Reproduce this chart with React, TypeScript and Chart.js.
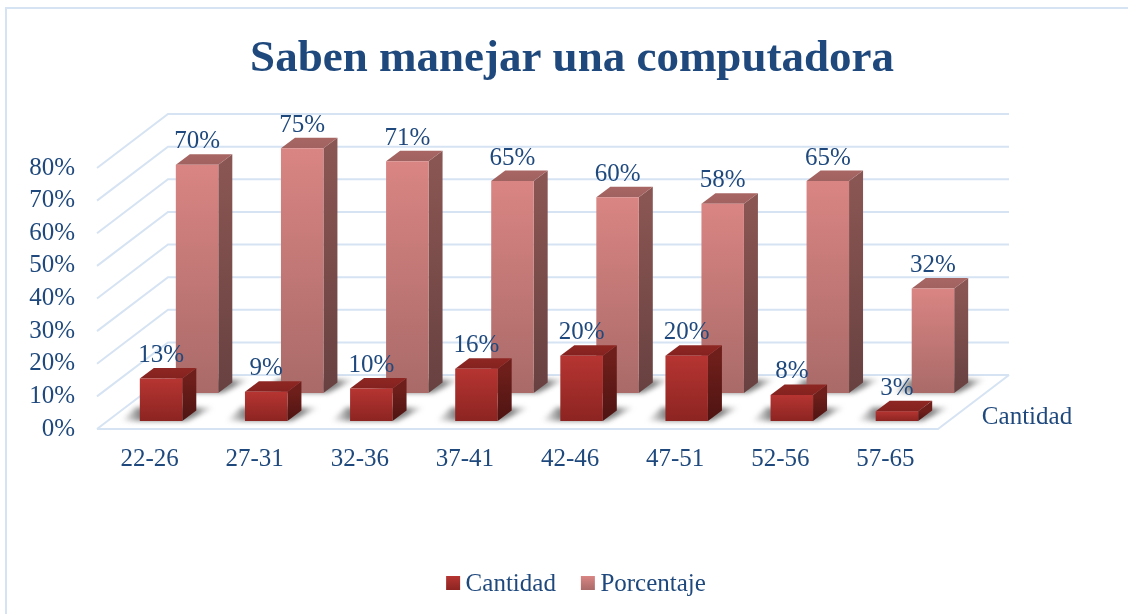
import React, { useEffect, useRef } from "react";
import { Chart, registerables } from "chart.js";

Chart.register(...registerables);

const titleText = "Saben manejar una computadora";
const categories = ["22-26", "27-31", "32-36", "37-41", "42-46", "47-51", "52-56", "57-65"];
const cantidad = [13, 9, 10, 16, 20, 20, 8, 3];
const porcentaje = [70, 75, 71, 65, 60, 58, 65, 32];
const depthLabel = "Cantidad";

const FONT = "'Liberation Serif', serif";
const TEXT = "#1f497d";
const GRID = "#d6e3f3";
const WALL = { dx: 71, dy: 54 };
const BAR_DEPTH = { dx: 14, dy: 10.5 };

const looks = [
  { shift: { dx: 11.5, dy: 8 }, front: ["#b63532", "#8c2421"], top: ["#8e2723", "#84221f"], side: ["#6f1f1b", "#4e1412"] },
  { shift: { dx: 47.5, dy: 36 }, front: ["#d98583", "#a96a68"], top: ["#a86663", "#a06260"], side: ["#8a5653", "#674140"] },
];

function vgrad(ctx: CanvasRenderingContext2D, y0: number, y1: number, c: string[]) {
  const g = ctx.createLinearGradient(0, y0, 0, y1);
  g.addColorStop(0, c[0]);
  g.addColorStop(1, c[1]);
  return g;
}

function poly(ctx: CanvasRenderingContext2D, pts: number[][], fill: any) {
  ctx.beginPath();
  pts.forEach((p, i) => (i ? ctx.lineTo(p[0], p[1]) : ctx.moveTo(p[0], p[1])));
  ctx.closePath();
  ctx.fillStyle = fill;
  ctx.fill();
}

const scene3d = {
  id: "scene3d",
  afterLayout(chart: any) {
    chart.legend.left += 4;
    chart.legend.right += 4;
  },
  beforeDraw(chart: any) {
    const { ctx, width, height } = chart;
    ctx.save();
    ctx.strokeStyle = GRID;
    ctx.lineWidth = 2;
    ctx.beginPath();
    ctx.moveTo(6, height);
    ctx.lineTo(6, 8);
    ctx.lineTo(width, 8);
    ctx.stroke();
    ctx.restore();
  },
  beforeDatasetsDraw(chart: any) {
    const { ctx, scales, chartArea } = chart;
    const { left, right } = chartArea;
    ctx.save();
    ctx.strokeStyle = GRID;
    ctx.lineWidth = 2;
    scales.y.ticks.forEach((t: any) => {
      const y = scales.y.getPixelForValue(t.value);
      ctx.beginPath();
      ctx.moveTo(left, y);
      ctx.lineTo(left + WALL.dx, y - WALL.dy);
      ctx.lineTo(right + WALL.dx, y - WALL.dy);
      ctx.stroke();
    });
    const y0 = scales.y.getPixelForValue(0);
    ctx.beginPath();
    ctx.moveTo(left, y0);
    ctx.lineTo(right, y0);
    ctx.lineTo(right + WALL.dx, y0 - WALL.dy);
    ctx.stroke();
    ctx.restore();

    // floor shadows, behind all the bars
    [1, 0].forEach((di) => {
      const look = looks[di];
      chart.getDatasetMeta(di).data.forEach((el: any) => {
        const w = el.width;
        const x0 = el.x - w / 2 + look.shift.dx;
        const b = el.base - look.shift.dy;
        const xa = x0 - 19;
        const xb = x0 + w + BAR_DEPTH.dx + 18;
        const g = ctx.createLinearGradient(xa, 0, xb, 0);
        g.addColorStop(0, "rgba(110,110,110,0)");
        g.addColorStop(19 / (xb - xa), "rgba(80,80,80,0.7)");
        g.addColorStop((19 + w + BAR_DEPTH.dx) / (xb - xa), "rgba(80,80,80,0.7)");
        g.addColorStop(1, "rgba(110,110,110,0)");
        ctx.save();
        ctx.filter = "blur(2.5px)";
        poly(ctx, [[xa, b], [x0 + w + 4, b], [xb, b - 13.5], [x0 - 4, b - 13.5]], g);
        ctx.restore();
      });
    });
  },
  beforeDatasetDraw(chart: any, args: any) {
    const { ctx } = chart;
    const look = looks[args.index];
    chart.getDatasetMeta(args.index).data.forEach((el: any) => {
      const w = el.width;
      const x0 = el.x - w / 2 + look.shift.dx;
      const x1 = x0 + w;
      const top = el.y - look.shift.dy;
      const bot = el.base - look.shift.dy;
      const { dx, dy } = BAR_DEPTH;
      poly(ctx, [[x1, top], [x1 + dx, top - dy], [x1 + dx, bot - dy], [x1, bot]], vgrad(ctx, top, bot, look.side));
      poly(ctx, [[x0, top], [x0 + dx, top - dy], [x1 + dx, top - dy], [x1, top]], vgrad(ctx, top - dy, top, look.top));
      poly(ctx, [[x0, top], [x1, top], [x1, bot], [x0, bot]], vgrad(ctx, top, bot, look.front));
    });
    return false;
  },
  afterDatasetsDraw(chart: any) {
    const { ctx, scales, chartArea } = chart;
    ctx.save();
    ctx.fillStyle = TEXT;
    ctx.font = `25px ${FONT}`;
    ctx.textAlign = "center";
    ctx.textBaseline = "middle";
    [1, 0].forEach((di) => {
      const look = looks[di];
      const values = chart.data.datasets[di].data;
      chart.getDatasetMeta(di).data.forEach((el: any, i: number) => {
        ctx.fillText(`${values[i]}%`, el.x + look.shift.dx, el.y - look.shift.dy - 23);
      });
    });
    ctx.fillText(depthLabel, chartArea.right + 89, scales.y.getPixelForValue(0) - 12);
    ctx.restore();
  },
  afterDraw(chart: any) {
    // legend swatches: the built-in key leaves too wide a gap before its text
    const { ctx, legend } = chart;
    legend.adjustHitBoxes();
    ctx.save();
    legend.legendHitBoxes.forEach((hit: any, i: number) => {
      ctx.fillStyle = vgrad(ctx, 576, 590, looks[i].front);
      ctx.fillRect(hit.left, 576, 14, 14);
    });
    ctx.restore();
  },
};

export default function App() {
  const ref = useRef<HTMLCanvasElement>(null);
  useEffect(() => {
    const canvas = ref.current!;
    const font = { family: FONT, size: 25 };
    const chart = new Chart(canvas, {
      type: "bar",
      data: {
        labels: categories,
        datasets: [
          { label: "Cantidad", data: cantidad, backgroundColor: "#a32d2a" },
          { label: "Porcentaje", data: porcentaje, backgroundColor: "#c57a78" },
        ],
      },
      plugins: [scene3d],
      options: {
        responsive: false,
        animation: false,
        events: [],
        layout: { padding: { left: 16, right: 0, top: 32, bottom: 7 } },
        datasets: { bar: { grouped: false, barPercentage: 0.404, categoryPercentage: 1 } },
        scales: {
          x: {
            grid: { display: false },
            border: { display: false },
            ticks: { color: TEXT, font, padding: 7, maxRotation: 0, autoSkip: false },
            afterFit(s: any) { s.height = 118; },
          },
          y: {
            min: 0,
            max: 80,
            grid: { display: false },
            border: { display: false },
            ticks: { color: TEXT, font, stepSize: 10, padding: 14, autoSkip: false, callback: (v: any) => `${v}%` },
            afterFit(s: any) { s.width = 81; },
          },
          depth: {
            type: "linear",
            position: "right",
            display: true,
            grid: { display: false },
            border: { display: false },
            ticks: { display: false },
            afterFit(s: any) { s.width = 190; },
          },
        } as any,
        plugins: {
          title: {
            display: true,
            text: titleText,
            color: TEXT,
            font: { family: FONT, size: 45, weight: "bold" },
            padding: { top: 0, bottom: 82 },
          },
          legend: {
            position: "bottom",
            labels: {
              color: TEXT,
              font,
              boxWidth: 7,
              boxHeight: 14,
              padding: 25,
              generateLabels(c: any) {
                return c.data.datasets.map((d: any, i: number) => ({
                  text: d.label,
                  fontColor: TEXT,
                  fillStyle: "transparent",
                  lineWidth: 0,
                  strokeStyle: "transparent",
                  datasetIndex: i,
                }));
              },
            },
          },
          tooltip: { enabled: false },
        },
      } as any,
    });
    return () => chart.destroy();
  }, []);
  return (
    <canvas
      ref={ref}
      width={1128}
      height={614}
      style={{ position: "fixed", left: 0, top: 0, width: 1128, height: 614, background: "#fff", display: "block" }}
    />
  );
}
